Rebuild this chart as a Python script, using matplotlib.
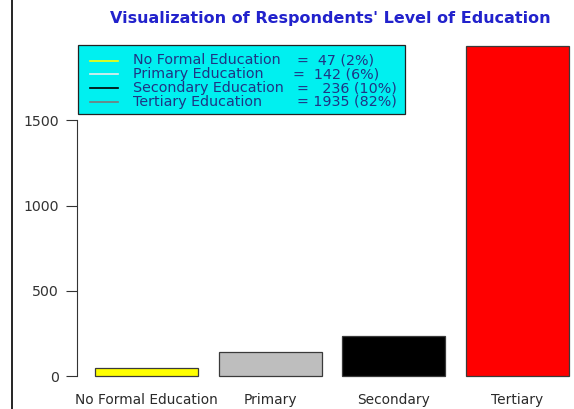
import matplotlib.pyplot as plt
from matplotlib.lines import Line2D
from matplotlib.patches import Rectangle

plt.rcParams['font.family'] = ['DejaVu Sans']

categories = ['No Formal Education', 'Primary', 'Secondary', 'Tertiary']
counts = [47, 142, 236, 1935]
bar_colors = ['yellow', '#bebebe', 'black', 'red']
legend_names = ['No Formal Education', 'Primary Education',
                'Secondary Education', 'Tertiary Education']
legend_values = ['=  47 (2%)', '=  142 (6%)', '=   236 (10%)', '= 1935 (82%)']
legend_colors = ['yellow', '#ececec', 'black', '#7a7a7a']

W, H = 574, 409


def fx(x):
    return x / W


def fy(y):
    return 1 - y / H


fig = plt.figure(figsize=(5.74, 4.09), dpi=100)
ax = fig.add_axes([fx(77), fy(389.2), (574 - 77) / W, 356.3 / H])

# R barplot layout: width 1, space 0.2
lefts = [0.2 + i * 1.2 for i in range(len(counts))]
centers = [l + 0.5 for l in lefts]
ax.bar(centers, counts, width=1.0, color=bar_colors, edgecolor='#3a3a3a', linewidth=0.9)

ax.set_xlim(0.025, 4.85)
ax.set_ylim(-77.4, 2012.4)

for s in ['top', 'right', 'bottom']:
    ax.spines[s].set_visible(False)
ax.spines['left'].set_bounds(0, 1500)
ax.spines['left'].set_color('#333333')
ax.set_yticks([0, 500, 1000, 1500])
ax.tick_params(axis='y', length=8, color='#333333', labelsize=10.2, labelcolor='#333333', pad=5)
ax.set_xticks([])

for c, lab in zip(centers, categories):
    ax.text(c, -140, lab, ha='center', va='center', fontsize=9.9, color='#2a2a2a',
            clip_on=False)

fig.text(fx(330), fy(19), "Visualization of Respondents' Level of Education",
         ha='center', va='center', fontsize=11.5, fontweight='bold', color='#2222cc')

# legend box (drawn like R's legend)
fig.add_artist(Rectangle((fx(78), fy(114)), (405 - 78) / W, (114 - 45) / H,
                         transform=fig.transFigure, facecolor='#00f0f0',
                         edgecolor='#222222', lw=0.9))
eq_x = [297, 293, 297, 297]
for i, (name, val, col) in enumerate(zip(legend_names, legend_values, legend_colors)):
    yy = 60.5 + i * 13.8
    fig.add_artist(Line2D([fx(90), fx(118)], [fy(yy), fy(yy)], color=col, lw=1.2,
                          transform=fig.transFigure))
    fig.text(fx(133), fy(yy), name, ha='left', va='center', fontsize=10.3, color='#1f3585')
    fig.text(fx(eq_x[i]), fy(yy), val, ha='left', va='center', fontsize=10.3, color='#1f3585')

# scan border on the left
fig.add_artist(Line2D([fx(12), fx(12)], [0, 1], color='black', lw=1.2,
                      transform=fig.transFigure))

fig.savefig('out.png', dpi=100, facecolor='white')
